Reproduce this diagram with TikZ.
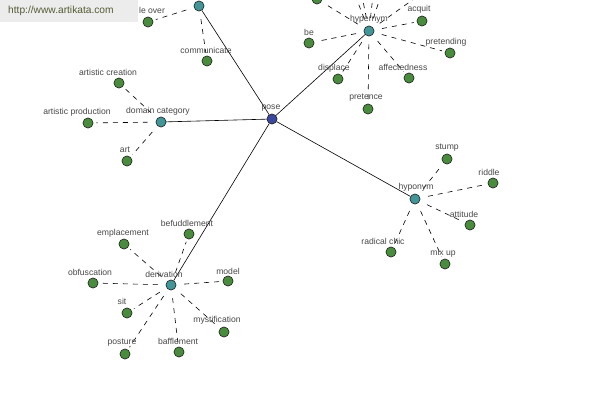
\documentclass[tikz,border=0pt]{standalone}
\usepackage{fontspec}
\setmainfont{Liberation Sans}
\definecolor{leafgreen}{RGB}{74,140,62}
\definecolor{catteal}{RGB}{66,150,152}
\definecolor{rootblue}{RGB}{60,72,158}
\definecolor{lblgray}{RGB}{72,72,72}
\definecolor{wmgray}{RGB}{236,236,236}
\definecolor{wmtext}{RGB}{82,92,52}
\begin{document}
\begin{tikzpicture}[x=1pt,y=-1pt,
  leaf/.style={circle,draw=black!85,fill=leafgreen,minimum size=10pt,inner sep=0pt,line width=0.5pt},
  cat/.style={leaf,fill=catteal},
  root/.style={leaf,fill=rootblue},
  ghost/.style={circle,minimum size=10pt,inner sep=0pt},
  lbl/.style={font=\fontsize{8.6}{9}\selectfont,text=lblgray,inner sep=0pt},
  rel/.style={draw=black,line width=0.6pt},
  dsh/.style={draw=black,line width=0.6pt,dash pattern=on 5pt off 5pt,shorten <=8pt,shorten >=3pt}]
\useasboundingbox (0,0) rectangle (600,400);
\fill[white] (0,0) rectangle (600,400);
\clip (0,0) rectangle (600,400);
% category and root nodes
\node[root] (pose) at (272,119) {};
\node[cat] (top) at (199,6) {};
\node[cat] (hyper) at (369,31) {};
\node[cat] (dom) at (161,122) {};
\node[cat] (hypo) at (415,199) {};
\node[cat] (deriv) at (171,285) {};
% leaves
\node[leaf] (lover) at (148,22) {};
\node[leaf] (comm) at (207,61) {};
\node[leaf] (acquit) at (422,21) {};
\node[leaf] (be) at (309,43) {};
\node[leaf] (pretending) at (450,53) {};
\node[leaf] (displace) at (338,79) {};
\node[leaf] (affect) at (409,78) {};
\node[leaf] (pretence) at (368,109) {};
\node[leaf] (off1) at (317,-1) {};
\node[ghost] (off2) at (343,-36) {};
\node[ghost] (off3) at (355,-39) {};
\node[ghost] (off4) at (377,-40) {};
\node[ghost] (off5) at (392,-37) {};
\node[ghost] (off6) at (432,-14) {};
\node[leaf] (artcre) at (119,83) {};
\node[leaf] (artprod) at (88,123) {};
\node[leaf] (art) at (127,161) {};
\node[leaf] (stump) at (447,159) {};
\node[leaf] (riddle) at (493,183) {};
\node[leaf] (attitude) at (470,225) {};
\node[leaf] (radical) at (391,252) {};
\node[leaf] (mixup) at (445,264) {};
\node[leaf] (befud) at (189,234) {};
\node[leaf] (empl) at (124,244) {};
\node[leaf] (obf) at (93,283) {};
\node[leaf] (model) at (228,281) {};
\node[leaf] (sit) at (127,313) {};
\node[leaf] (myst) at (224,332) {};
\node[leaf] (posture) at (125,354) {};
\node[leaf] (baffle) at (179,352) {};
% connectors
\path[rel] (pose) -- (top) (pose) -- (hyper) (pose) -- (dom) (pose) -- (hypo) (pose) -- (deriv);
\foreach \a/\b in {top/lover,top/comm,
  hyper/acquit,hyper/be,hyper/pretending,hyper/displace,hyper/affect,hyper/pretence,
  hyper/off1,hyper/off2,hyper/off3,hyper/off4,hyper/off5,hyper/off6,
  dom/artcre,dom/artprod,dom/art,
  hypo/stump,hypo/riddle,hypo/attitude,hypo/radical,hypo/mixup,
  deriv/befud,deriv/empl,deriv/obf,deriv/model,deriv/sit,deriv/myst,deriv/posture,deriv/baffle}
  \path[dsh] (\a) -- (\b);
% labels
\node[lbl] (l-pose) at (271,108) {pose};
\node[lbl] (l-hyper) at (369,19) {hypernym};
\node[lbl] (l-dom) at (158,111) {domain category};
\node[lbl] (l-hypo) at (416,187) {hyponym};
\node[lbl] (l-deriv) at (164,274) {derivation};
\node[lbl] (l-lover) at (152,10) {le over};
\node[lbl] (l-comm) at (206,50) {communicate};
\node[lbl] (l-acquit) at (419,9) {acquit};
\node[lbl] (l-be) at (309,32) {be};
\node[lbl] (l-pretending) at (446,42) {pretending};
\node[lbl] (l-displace) at (334,68) {displace};
\node[lbl] (l-affect) at (403,67) {affectedness};
\node[lbl] (l-pretence) at (366,98) {pretence};
\node[lbl] (l-artcre) at (108,72) {artistic creation};
\node[lbl] (l-artprod) at (77,112) {artistic production};
\node[lbl] (l-art) at (125,150) {art};
\node[lbl] (l-stump) at (447,148) {stump};
\node[lbl] (l-riddle) at (489,172) {riddle};
\node[lbl] (l-attitude) at (464,214) {attitude};
\node[lbl] (l-radical) at (383,241) {radical chic};
\node[lbl] (l-mixup) at (443,253) {mix up};
\node[lbl] (l-befud) at (187,223) {befuddlement};
\node[lbl] (l-empl) at (123,233) {emplacement};
\node[lbl] (l-obf) at (90,272) {obfuscation};
\node[lbl] (l-model) at (228,271) {model};
\node[lbl] (l-sit) at (122,301) {sit};
\node[lbl] (l-myst) at (217,320) {mystification};
\node[lbl] (l-posture) at (122,343) {posture};
\node[lbl] (l-baffle) at (178,341) {bafflement};
% redraw nodes on top of connectors
\foreach \n/\s in {pose/root,top/cat,hyper/cat,dom/cat,hypo/cat,deriv/cat}
  \node[\s] at (\n) {};
\foreach \n in {lover,comm,acquit,be,pretending,displace,affect,pretence,off1,artcre,artprod,art,stump,riddle,attitude,radical,mixup,befud,empl,obf,model,sit,myst,posture,baffle}
  \node[leaf] at (\n) {};
% watermark
\fill[wmgray] (0,0) rectangle (138,22);
\node[anchor=west,text=wmtext,font=\fontsize{10.2}{12}\selectfont,inner sep=0pt] (wm) at (8,11) {http://www.artikata.com};
\end{tikzpicture}
\end{document}
